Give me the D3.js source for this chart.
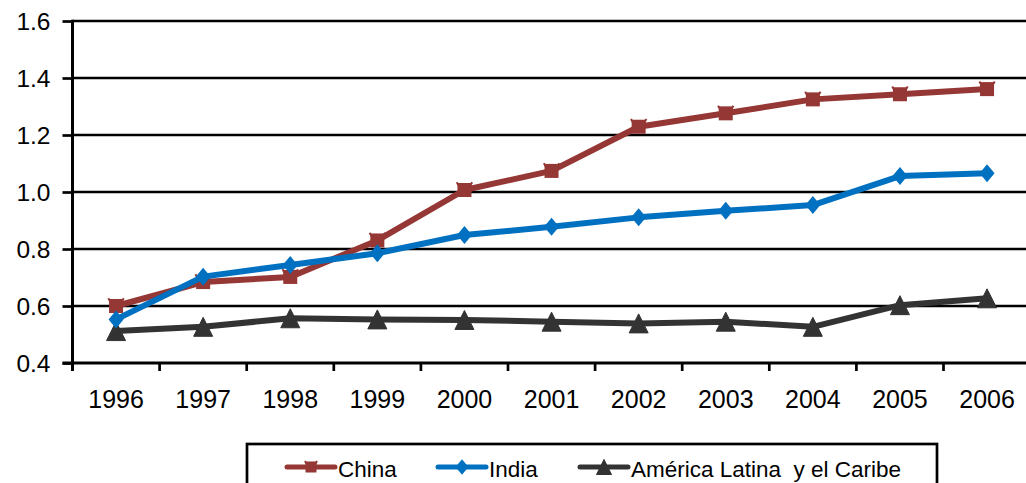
<!DOCTYPE html>
<html><head><meta charset="utf-8">
<script src="https://cdn.jsdelivr.net/npm/d3@7"></script>
<style>
html,body{margin:0;padding:0;background:#fff;}
svg{display:block;font-family:"Liberation Sans",Arial,sans-serif;}
</style></head>
<body>
<svg id="chart" width="1026" height="483"></svg>
<script>
const years = ["1996","1997","1998","1999","2000","2001","2002","2003","2004","2005","2006"];
const china = [0.60,0.684,0.702,0.83,1.007,1.074,1.229,1.276,1.325,1.343,1.361];
const india = [0.553,0.703,0.744,0.785,0.849,0.878,0.911,0.934,0.954,1.056,1.066];
const latam = [0.512,0.527,0.557,0.553,0.551,0.545,0.539,0.545,0.527,0.603,0.627];
const yTicks = [0.4,0.6,0.8,1.0,1.2,1.4,1.6];
const seriesNames = ["China","India","América Latina  y el Caribe"];

const series = [
  {name: seriesNames[0], values: china, color: "#953735", marker: "square"},
  {name: seriesNames[1], values: india, color: "#0070C0", marker: "diamond"},
  {name: seriesNames[2], values: latam, color: "#333333", marker: "triangle"}
];

const svg = d3.select("#chart");
const pLeft = 72.5, pRight = 1030.6, pTop = 21, pBottom = 363;

const x = d3.scaleBand().domain(years).range([pLeft, pRight]);
const y = d3.scaleLinear().domain([0.4, 1.6]).range([pBottom, pTop]);
const cx = d => x(d) + x.bandwidth()/2;

// gridlines
svg.append("g").selectAll("line").data(yTicks.filter(t => t > 0.4)).join("line")
  .attr("x1", pLeft).attr("x2", 1026)
  .attr("y1", d => y(d)).attr("y2", d => y(d))
  .attr("stroke", "#000").attr("stroke-width", 2.7);

// y axis
const yAxis = d3.axisLeft(y).tickValues(yTicks).tickFormat(d3.format(".1f")).tickSize(10).tickPadding(12);
const gy = svg.append("g").attr("transform", `translate(${pLeft},0)`).call(yAxis);
gy.select(".domain").remove();
gy.selectAll(".tick line").attr("stroke", "#000").attr("stroke-width", 2.7);
gy.selectAll(".tick text").attr("font-size", 24.5).attr("fill", "#000")
  .attr("font-family", "Liberation Sans, Arial, sans-serif").attr("dy", "0.36em");
svg.append("line").attr("x1", pLeft).attr("x2", pLeft).attr("y1", pTop-1.3).attr("y2", pBottom + 8)
  .attr("stroke", "#000").attr("stroke-width", 3);

// x axis
const xAxis = d3.axisBottom(x).tickSize(0).tickPadding(27);
const gx = svg.append("g").attr("transform", `translate(0,${pBottom})`).call(xAxis);
gx.select(".domain").remove();
gx.selectAll(".tick text").attr("font-size", 25).attr("fill", "#000")
  .attr("font-family", "Liberation Sans, Arial, sans-serif");
svg.append("line").attr("x1", pLeft - 10).attr("x2", 1026).attr("y1", pBottom).attr("y2", pBottom)
  .attr("stroke", "#000").attr("stroke-width", 3);
svg.append("g").selectAll("line").data(years.slice(1)).join("line")
  .attr("x1", d => x(d)).attr("x2", d => x(d))
  .attr("y1", pBottom).attr("y2", pBottom + 8)
  .attr("stroke", "#000").attr("stroke-width", 2.7);

// markers
function drawMarker(g, type, color, s) {
  if (type === "square") {
    g.append("rect").attr("x", -s*0.5).attr("y", -s*0.5).attr("width", s).attr("height", s).attr("fill", color);
    // small corner spikes like the original marker
    g.append("path").attr("d", `M${-s*0.55},${-s*0.55}L${-s*0.35},${-s*0.2}M${s*0.55},${-s*0.55}L${s*0.35},${-s*0.2}`)
      .attr("stroke", color).attr("stroke-width", 2);
  } else if (type === "diamond") {
    const w = s*0.5, h = s*0.6;
    g.append("path").attr("d", `M0,${-h}L${w},0L0,${h}L${-w},0Z`).attr("fill", color);
  } else {
    g.append("path").attr("d", `M0,${-s*0.5}L${s*0.5},${s*0.5}L${-s*0.5},${s*0.5}Z`).attr("fill", color)
     .attr("stroke", color).attr("stroke-width", 1).attr("stroke-linejoin","round");
  }
}

const line = d3.line().x((d,i) => cx(years[i])).y(d => y(d));

const order = [series[2], series[0], series[1]];
order.forEach(s => {
  const g = svg.append("g");
  g.append("path").attr("d", line(s.values)).attr("fill", "none")
    .attr("stroke", s.color).attr("stroke-width", 6).attr("stroke-linejoin", "round");
  s.values.forEach((v,i) => {
    const m = g.append("g").attr("transform", `translate(${cx(years[i])},${y(v)})`);
    drawMarker(m, s.marker, s.color, s.marker === "square" ? 14 : (s.marker === "diamond" ? 15 : 19));
  });
});

// legend
const lg = svg.append("g");
lg.append("rect").attr("x", 247).attr("y", 444).attr("width", 690).attr("height", 60)
  .attr("fill", "none").attr("stroke", "#000").attr("stroke-width", 2.7);
const legendX = [287, 438, 580];
series.forEach((s, i) => {
  const g = lg.append("g").attr("transform", `translate(${legendX[i]},467)`);
  g.append("line").attr("x1", 0).attr("x2", 48).attr("y1", 0).attr("y2", 0)
    .attr("stroke", s.color).attr("stroke-width", 5).attr("stroke-linecap", "round");
  const m = g.append("g").attr("transform", "translate(24,0)");
  drawMarker(m, s.marker, s.color, s.marker === "square" ? 11 : (s.marker === "diamond" ? 13 : 15));
  g.append("text").attr("x", 51).attr("y", 9.5).attr("font-size", 22.5).attr("fill", "#000")
    .style("white-space", "pre").text(s.name);
});
</script>
</body></html>
